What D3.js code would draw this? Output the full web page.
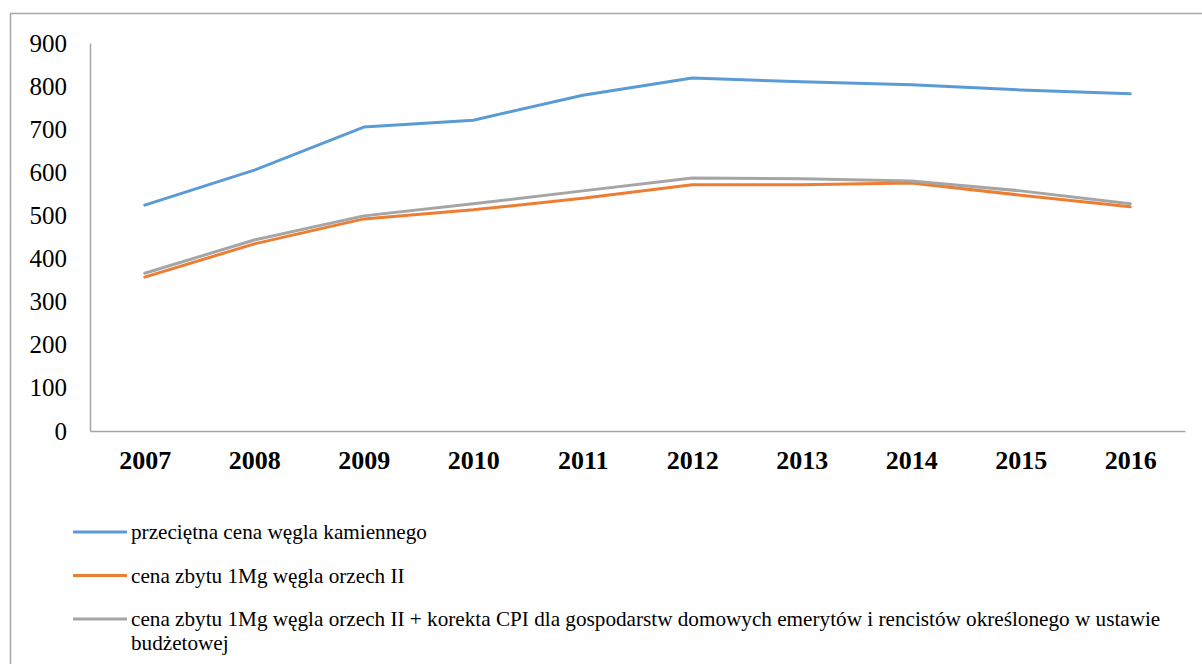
<!DOCTYPE html>
<html lang="pl">
<head>
    <meta charset="UTF-8">
    <title>Ceny węgla 2007-2016</title>
    <style>
        body, html {
          margin: 0;
          background: #fff;
        }
        svg {
          display: block;
        }
        svg text {
            font-family: "Liberation Serif", "Times New Roman", serif;
            fill: #000;
        }
        .y-axis text {
            font-size: 25px;
        }
        .x-axis text {
            font-size: 26px;
            font-weight: bold;
        }
        .legend text {
            font-size: 21.2px;
        }
    </style>
</head>
<body>
    <svg width="1202" height="664"></svg>

    <script src="https://d3js.org/d3.v7.min.js"></script>
    <script>
        // lata i wartości
        const years = ["2007", "2008", "2009", "2010", "2011", "2012", "2013", "2014", "2015", "2016"];
        const avgPrice = [524, 605, 705, 721, 779, 819, 810, 803, 791, 782];
        const nutPrice = [357, 434, 492, 513, 540, 571, 571, 575, 547, 520];
        const nutPriceCpi = [366, 443, 499, 527, 557, 587, 585, 580, 557, 527];
        const yTicks = [0, 100, 200, 300, 400, 500, 600, 700, 800, 900];

        const seriesNames = [
            "przeciętna cena węgla kamiennego",
            "cena zbytu 1Mg węgla orzech II",
            ["cena zbytu 1Mg węgla orzech II + korekta CPI dla gospodarstw domowych emerytów i rencistów określonego w ustawie", "budżetowej"]
        ];
        const colors = ["#5b9bd5", "#ed7d31", "#a5a5a5"];

        const series = [
            { name: seriesNames[0], values: avgPrice, color: colors[0] },
            { name: seriesNames[1], values: nutPrice, color: colors[1] },
            { name: seriesNames[2], values: nutPriceCpi, color: colors[2] }
        ];

        const svg = d3.select("svg");

        // ramka wokół całego wykresu
        svg.append("rect")
           .attr("x", 10.5)
           .attr("y", 13.5)
           .attr("width", 1200)
           .attr("height", 700)
           .attr("fill", "none")
           .attr("stroke", "#a6a6a6")
           .attr("stroke-width", 1.5);

        const plotLeft = 90, plotRight = 1185, plotTop = 43, plotBottom = 431;

        const x = d3.scalePoint()
                    .domain(years)
                    .range([plotLeft, plotRight])
                    .padding(0.5);

        const y = d3.scaleLinear()
                    .domain([0, 900])
                    .range([plotBottom, plotTop]);

        // oś Y
        const yAxis = svg.append("g")
                         .attr("class", "y-axis")
                         .attr("transform", `translate(${plotLeft},0)`)
                         .call(d3.axisLeft(y).tickValues(yTicks).tickSize(0).tickPadding(23));
        yAxis.select(".domain").attr("stroke", "#a6a6a6").attr("stroke-width", 1.5);

        // oś X
        const xAxis = svg.append("g")
                         .attr("class", "x-axis")
                         .attr("transform", `translate(0,${plotBottom})`)
                         .call(d3.axisBottom(x).tickSize(0).tickPadding(20));
        xAxis.select(".domain").attr("stroke", "#a6a6a6").attr("stroke-width", 1.5);

        const line = d3.line()
                       .x((d, i) => x(years[i]))
                       .y(d => y(d));

        svg.append("g")
           .selectAll("path")
           .data(series)
           .enter().append("path")
           .attr("d", d => line(d.values))
           .attr("fill", "none")
           .attr("stroke", d => d.color)
           .attr("stroke-width", 3)
           .attr("stroke-linejoin", "round")
           .attr("stroke-linecap", "round");

        // legenda
        const legend = svg.append("g")
                          .attr("class", "legend")
                          .selectAll("g")
                          .data(series)
                          .enter().append("g")
                          .attr("transform", (d, i) => `translate(73,${532 + i * 43.5})`);

        legend.append("line")
              .attr("x1", 0)
              .attr("x2", 54)
              .attr("stroke", d => d.color)
              .attr("stroke-width", 3);

        legend.append("text")
              .attr("y", 7)
              .each(function(d) {
                  const lines = Array.isArray(d.name) ? d.name : [d.name];
                  d3.select(this).selectAll("tspan")
                    .data(lines)
                    .enter().append("tspan")
                    .attr("x", 58)
                    .attr("dy", (t, j) => j === 0 ? 0 : 24)
                    .text(t => t);
              });
    </script>
</body>
</html>
